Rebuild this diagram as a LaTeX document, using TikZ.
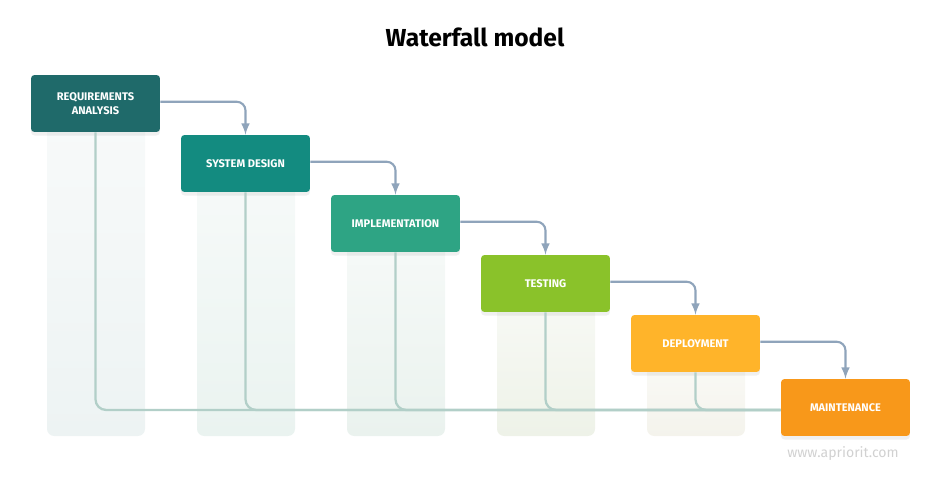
\documentclass[tikz,border=0pt]{standalone}
\usepackage{fontspec}
\setmainfont{Fira Sans}
\usetikzlibrary{shadows}
\definecolor{teal1}{HTML}{1F6A6A}
\definecolor{teal2}{HTML}{138B80}
\definecolor{vert3}{HTML}{2EA484}
\definecolor{vert4}{HTML}{8AC22A}
\definecolor{jaune5}{HTML}{FFB42A}
\definecolor{orange6}{HTML}{F8981A}
\definecolor{fleche}{HTML}{8FA4BB}
\definecolor{trait}{HTML}{B2CFC8}
\definecolor{fond1}{HTML}{EDF3F3}
\definecolor{fond2}{HTML}{EAF3F0}
\definecolor{fond3}{HTML}{EAF2EE}
\definecolor{fond4}{HTML}{EEF2E8}
\definecolor{fond5}{HTML}{F4F3EC}
\begin{document}
\begin{tikzpicture}[x=0.02cm,y=-0.02cm]
		% définition des styles
		\tikzstyle{etape}=[rectangle,rounded corners=2pt,minimum width=2.58cm,minimum height=1.14cm,
			text=white,font=\bfseries\fontsize{6.3}{7.8}\selectfont,align=center,
			drop shadow={opacity=0.12,shadow xshift=0pt,shadow yshift=-2pt}]
		\tikzstyle{colonne}=[rounded corners=4pt]
		\tikzstyle{passe}=[->,>=latex,draw=fleche,line width=1.2pt,rounded corners=5pt]
		\tikzstyle{retour}=[draw=trait,line width=1.3pt,rounded corners=6pt]
		\useasboundingbox (0,0) rectangle (950,480);
		% le titre
		\node[font=\bfseries\fontsize{14}{16}\selectfont] (titre) at (475,37) {Waterfall model};
		% les colonnes
		\shade[colonne,top color=fond1!40,bottom color=fond1] (47,110) rectangle (145,436);
		\shade[colonne,top color=fond2!40,bottom color=fond2] (197,170) rectangle (295,436);
		\shade[colonne,top color=fond3!40,bottom color=fond3] (347,230) rectangle (445,436);
		\shade[colonne,top color=fond4!40,bottom color=fond4] (497,290) rectangle (595,436);
		\shade[colonne,top color=fond5!40,bottom color=fond5] (647,350) rectangle (745,436);
		% les nœuds
		\node[etape,fill=teal1] (req) at (95.5,103.5) {REQUIREMENTS\\ANALYSIS};
		\node[etape,fill=teal2] (sys) at (245.5,163.5) {SYSTEM DESIGN};
		\node[etape,fill=vert3] (imp) at (395.5,223.5) {IMPLEMENTATION};
		\node[etape,fill=vert4] (tes) at (545.5,283.5) {TESTING};
		\node[etape,fill=jaune5] (dep) at (695.5,343.5) {DEPLOYMENT};
		\node[etape,fill=orange6] (mai) at (845.5,407.5) {MAINTENANCE};
		% les flèches
		\draw[passe] ([yshift=1pt]req.east) -| (sys.north);
		\draw[passe] ([yshift=1pt]sys.east) -| (imp.north);
		\draw[passe] ([yshift=1pt]imp.east) -| (tes.north);
		\draw[passe] ([yshift=1pt]tes.east) -| (dep.north);
		\draw[passe] ([yshift=1pt]dep.east) -| (mai.north);
		% les retours
		\draw[retour] (req.south) |- ([yshift=-1.4pt]mai.west);
		\draw[retour] (sys.south) |- ([yshift=-1.4pt]mai.west);
		\draw[retour] (imp.south) |- ([yshift=-1.4pt]mai.west);
		\draw[retour] (tes.south) |- ([yshift=-1.4pt]mai.west);
		\draw[retour] (dep.south) |- ([yshift=-1.4pt]mai.west);
		% le site
		\node[text=black!18,font=\fontsize{8}{9.5}\selectfont] (site) at (843,454) {www.apriorit.com};
	\end{tikzpicture}
\end{document}
